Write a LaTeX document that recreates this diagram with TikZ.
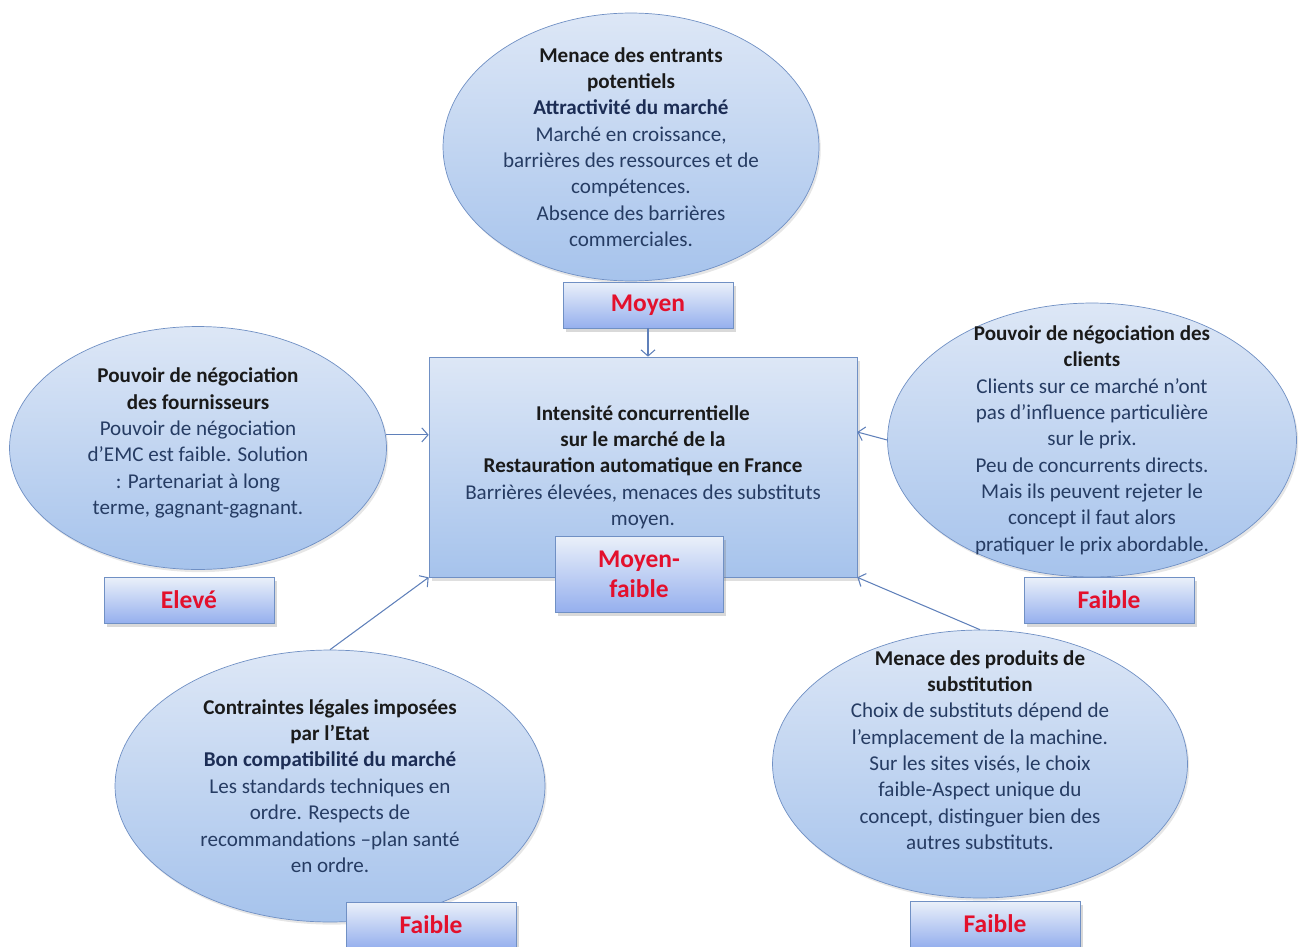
\documentclass[tikz,border=0pt]{standalone}
\usepackage{fontspec}
\setmainfont{Carlito}
\usetikzlibrary{shapes.geometric,shadows,arrows.meta}
\definecolor{rimblue}{HTML}{7090C4}
\definecolor{lightblue}{HTML}{DDE7F6}
\definecolor{midblue}{HTML}{A6C3EC}
\definecolor{textblue}{HTML}{263C63}
\definecolor{headblue}{HTML}{1C2D55}
\definecolor{titleblack}{HTML}{1A1A1A}
\definecolor{levelred}{HTML}{E3102C}
\definecolor{arrowblue}{HTML}{5F80BA}
\newcommand{\forcetitle}[1]{\textcolor{titleblack}{\textbf{#1}}}
\newcommand{\forcesub}[1]{\textcolor{headblue}{\textbf{#1}}}
\begin{document}
\begin{tikzpicture}[x=0.02cm,y=-0.02cm,
  force/.style={ellipse,draw=rimblue,top color=lightblue,bottom color=midblue,inner sep=0pt,
    drop shadow={shadow xshift=1pt,shadow yshift=-1.5pt,opacity=0.2}},
  forcetext/.style={align=center,text=textblue,font=\fontsize{12}{15}\selectfont},
  level/.style={rectangle,draw=rimblue,top color=lightblue!60!white,bottom color=midblue!90!blue,
    minimum width=3.4cm,minimum height=0.92cm,text=levelred,font=\fontsize{14.5}{17}\selectfont\bfseries,
    drop shadow={shadow xshift=1.5pt,shadow yshift=-2pt,opacity=0.3}},
  arr/.style={draw=arrowblue,line width=0.6pt,-{Straight Barb[length=3.5pt,width=8pt]}}]
\useasboundingbox (0,0) rectangle (1300,946);
% the five forces
\node[force,minimum width=7.52cm,minimum height=5.36cm] (ent) at (631,147) {};
\node[force,minimum width=7.54cm,minimum height=4.86cm] (four) at (198,448) {};
\node[force,minimum width=8.18cm,minimum height=5.48cm] (cli) at (1092,440) {};
\node[force,minimum width=8.6cm,minimum height=5.44cm] (leg) at (330,786) {};
\node[force,minimum width=8.3cm,minimum height=5.36cm] (sub) at (980,764) {};
\node[forcetext] (ent-t) at (ent.center) {\forcetitle{Menace des entrants}\\\forcetitle{potentiels}\\
  \forcesub{Attractivité du marché}\\Marché en croissance,\\barrières des ressources et de\\compétences.\\
  Absence des barrières\\commerciales.};
\node[forcetext] (four-t) at ([yshift=0.1cm]four.center) {\forcetitle{Pouvoir de négociation}\\\forcetitle{des fournisseurs}\\
  Pouvoir de négociation\\d’EMC est faible. Solution\\: Partenariat à long\\terme, gagnant-gagnant.};
\node[forcetext] (cli-t) at (cli.center) {\forcetitle{Pouvoir de négociation des}\\\forcetitle{clients}\\
  Clients sur ce marché n’ont\\pas d’influence particulière\\sur le prix.\\Peu de concurrents directs.\\
  Mais ils peuvent rejeter le\\concept il faut alors\\pratiquer le prix abordable.};
\node[forcetext] (leg-t) at (leg.center) {\forcetitle{Contraintes légales imposées}\\\forcetitle{par l’Etat}\\
  \forcesub{Bon compatibilité du marché}\\Les standards techniques en\\ordre. Respects de\\
  recommandations –plan santé\\en ordre.};
\node[forcetext] (sub-t) at ([yshift=0.28cm]sub.center) {\forcetitle{Menace des produits de}\\\forcetitle{substitution}\\
  Choix de substituts dépend de\\l’emplacement de la machine.\\Sur les sites visés, le choix\\
  faible-Aspect unique du\\concept, distinguer bien des\\autres substituts.};
% centre
\node[rectangle,draw=rimblue,top color=lightblue,bottom color=midblue,minimum width=8.56cm,minimum height=4.4cm,
  forcetext,drop shadow={shadow xshift=1.5pt,shadow yshift=-2pt,opacity=0.25}] (int) at (643,467)
  {\forcetitle{Intensité concurrentielle}\\\forcetitle{sur le marché de la}\\
  \forcetitle{Restauration automatique en France}\\Barrières élevées, menaces des substituts\\moyen.};
% levels
\node[level] (lvlent) at (648,305) {Moyen};
\node[level] (lvlfour) at (189,600) {Elevé};
\node[level] (lvlcli) at (1109,600) {Faible};
\node[level] (lvlleg) at (431,925) {Faible};
\node[level] (lvlsub) at (995,924) {Faible};
\node[level,align=center,minimum width=3.36cm,minimum height=1.52cm] (lvlint) at (639,574) {Moyen-\\faible};
% arrows
\draw[arr] (lvlent.south) -- (lvlent.south |- int.north);
\draw[arr] (four.4) -- (four.4 -| int.west);
\draw[arr] (cli.west) -- ([yshift=0.7cm]int.east);
\draw[arr] (leg.north) -- (int.south west);
\draw[arr] (sub.north) -- (int.south east);
\end{tikzpicture}
\end{document}
